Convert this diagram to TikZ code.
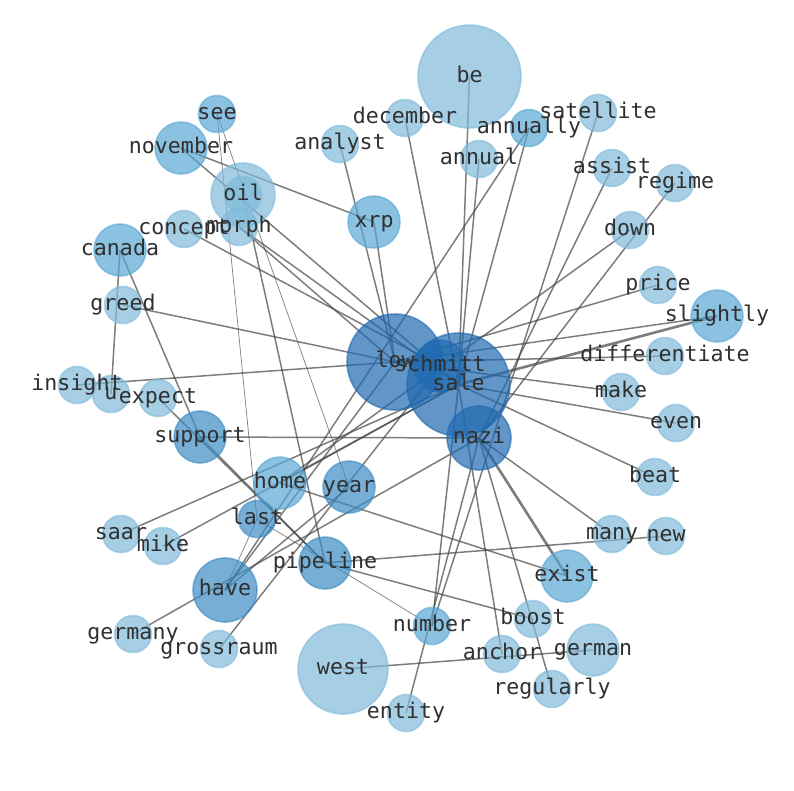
\documentclass[tikz,border=0pt]{standalone}
\usepackage{fontspec}
\newfontfamily\lblfont{DejaVu Sans Mono}
\definecolor{edgec}{RGB}{70,70,70}
\definecolor{clt}{RGB}{128,186,218}
\definecolor{cmd}{RGB}{90,166,212}
\definecolor{cdk}{RGB}{60,140,196}
\definecolor{chub}{RGB}{31,105,176}
\definecolor{txtc}{RGB}{48,48,48}
\begin{document}
\begin{tikzpicture}[x=1pt,y=-1pt]
\useasboundingbox (0,0) rectangle (794,790);
\tikzset{
  e/.style={draw=edgec, draw opacity=0.7, line width=1.5pt},
  ethin/.style={e, line width=0.7pt},
  ethick/.style={e, line width=2.6pt},
  nd/.style={circle, inner sep=0pt, fill opacity=0.7, draw opacity=0.6, line width=1.6pt},
  lt/.style={nd, fill=clt, draw=clt},
  md/.style={nd, fill=cmd, draw=cmd},
  dk/.style={nd, fill=cdk, draw=cdk},
  hub/.style={nd, fill=chub, draw=chub},
  s1/.style={minimum size=37pt},
  s2/.style={minimum size=52pt},
  s3/.style={minimum size=64pt},
  lab/.style={font=\lblfont\fontsize{21.6}{24}\selectfont, text=txtc, inner sep=0pt, text height=16pt, text depth=5pt}
}
% node positions
\coordinate (be) at (469.5,76.5);
\coordinate (december) at (405,118);
\coordinate (annually) at (529,128);
\coordinate (satellite) at (598,113);
\coordinate (analyst) at (340,144);
\coordinate (annual) at (479,159);
\coordinate (see) at (217,114);
\coordinate (november) at (181,148);
\coordinate (oil) at (243,195);
\coordinate (morph) at (239,227);
\coordinate (concept) at (184,229);
\coordinate (xrp) at (374,222);
\coordinate (canada) at (120,250);
\coordinate (assist) at (612,168);
\coordinate (regime) at (675,183);
\coordinate (down) at (630,230);
\coordinate (price) at (658,285);
\coordinate (slightly) at (717,316);
\coordinate (differentiate) at (665,356);
\coordinate (greed) at (123,305);
\coordinate (low) at (395,362);
\coordinate (schmitt) at (440,366);
\coordinate (sale) at (458.5,384.5);
\coordinate (make) at (621,392);
\coordinate (even) at (676,423);
\coordinate (insight) at (77,385);
\coordinate (u) at (111,394);
\coordinate (expect) at (158,398);
\coordinate (nazi) at (479,438);
\coordinate (support) at (200,437);
\coordinate (beat) at (655,477);
\coordinate (home) at (280,483);
\coordinate (year) at (349,487);
\coordinate (last) at (257,519);
\coordinate (saar) at (121,534);
\coordinate (mike) at (163,546);
\coordinate (many) at (612,534);
\coordinate (new) at (666,536);
\coordinate (pipeline) at (325,563);
\coordinate (exist) at (567,576);
\coordinate (have) at (225,590);
\coordinate (boost) at (533,619);
\coordinate (number) at (432,626);
\coordinate (german) at (593,650);
\coordinate (germany) at (133,634);
\coordinate (grossraum) at (219,649);
\coordinate (anchor) at (502,654);
\coordinate (west) at (343,669);
\coordinate (regularly) at (552,689);
\coordinate (entity) at (406,713);
% edges
\foreach \a/\b in {be/sale, december/sale, annual/sale, annually/sale, annually/have,
  satellite/number, assist/nazi, regime/nazi, down/home, price/low, slightly/low,
  differentiate/low, insight/low, make/low, even/sale, beat/sale, many/nazi,
  new/pipeline, exist/home, boost/pipeline, regularly/nazi, anchor/sale, west/german,
  entity/nazi, number/sale, grossraum/schmitt, germany/nazi, saar/sale, mike/sale,
  home/sale, support/nazi, support/pipeline, expect/pipeline, canada/support, canada/u,
  greed/low, concept/schmitt, morph/sale, morph/low, november/xrp, november/sale,
  oil/pipeline, analyst/low, xrp/low, have/low, have/year}
  \draw[e] (\a) -- (\b);
\foreach \a/\b in {number/last, see/last, see/year, last/have}
  \draw[ethin] (\a) -- (\b);
\foreach \a/\b in {slightly/sale, exist/nazi}
  \draw[ethick] (\a) -- (\b);
% nodes
\foreach \n in {december, satellite, analyst, annual, oil, morph, concept, assist, regime,
  down, price, differentiate, greed, make, even, insight, u, expect, beat, saar, mike,
  many, new, boost, germany, grossraum, anchor, regularly, entity}
  \node[lt, s1] at (\n) {};
\node[lt, minimum size=64pt] at (oil) {};
\node[lt, minimum size=103pt] at (be) {};
\node[lt, minimum size=90pt] at (west) {};
\node[lt, s2] at (german) {};
\foreach \n in {annually, see, number}
  \node[md, s1] at (\n) {};
\foreach \n in {november, xrp, canada, slightly, exist, home}
  \node[md, s2] at (\n) {};
\foreach \n in {support, year, pipeline}
  \node[dk, s2] at (\n) {};
\node[dk, s1] at (last) {};
\node[dk, s3] at (have) {};
\node[hub, minimum size=96pt] at (low) {};
\node[hub, s2] at (schmitt) {};
\node[hub, minimum size=103pt] at (sale) {};
\node[hub, s3] at (nazi) {};
% labels
\foreach \n in {be, december, annually, satellite, analyst, annual, see, november, oil,
  morph, concept, xrp, canada, assist, regime, down, price, slightly, differentiate,
  greed, low, schmitt, sale, make, even, insight, u, expect, nazi, support, beat, home,
  year, last, saar, mike, many, new, pipeline, exist, have, boost, number, german,
  germany, grossraum, anchor, west, regularly, entity}
  \node[lab] (\n-l) at (\n) {\n};
\end{tikzpicture}
\end{document}
